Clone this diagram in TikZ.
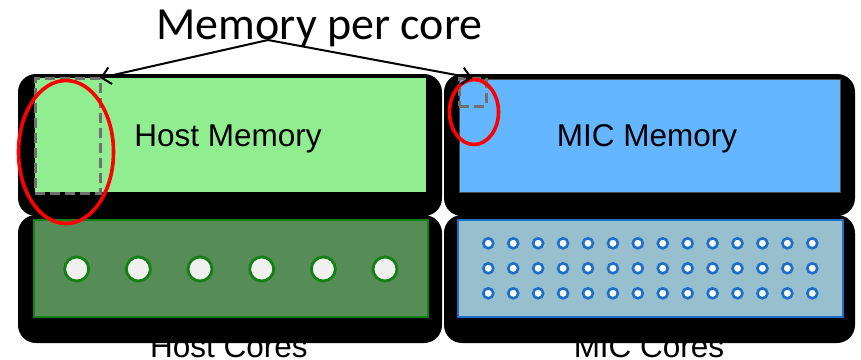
\documentclass[tikz,border=0pt]{standalone}
\usepackage{fontspec}
\setmainfont{Liberation Sans}
\newfontfamily\calib{Carlito}
\usetikzlibrary{arrows.meta,shapes.geometric}

\definecolor{hostmem}{RGB}{144,238,144}
\definecolor{micmem}{RGB}{99,182,255}
\definecolor{hostcore}{RGB}{86,140,86}
\definecolor{hostedge}{RGB}{20,128,20}
\definecolor{miccore}{RGB}{152,191,206}
\definecolor{micedge}{RGB}{30,110,200}
\definecolor{coregray}{RGB}{240,240,240}
\definecolor{dashgray}{RGB}{112,112,112}

\begin{document}
\begin{tikzpicture}[x=1pt,y=-1pt,
  halo/.style={fill=black, rounded corners=18pt, inner sep=0pt, outer sep=0pt, anchor=north west},
  panel/.style={inner sep=0pt, outer sep=0pt, anchor=north west},
  share/.style={draw=dashgray, line width=3pt, dash pattern=on 10pt off 5pt, inner sep=0pt, outer sep=0pt, anchor=north west},
  ring/.style={draw=red, line width=3.6pt, ellipse, inner sep=0pt},
  bigcore/.style={circle, fill=coregray, draw=hostedge, line width=2.8pt, minimum size=24pt, inner sep=0pt},
  smallcore/.style={circle, fill=white, draw=micedge, line width=2.6pt, minimum size=10pt, inner sep=0pt},
  lbl/.style={anchor=base, inner sep=0pt, font=\fontsize{31.5}{36}\selectfont},
  pointer/.style={draw=black, line width=2pt, -{Straight Barb[length=9pt,width=17pt,line width=2pt]}}
]
\useasboundingbox (0,0) rectangle (861,359);

% black backing plates
\node[halo, minimum width=424pt, minimum height=142pt] (hmback) at (18,74) {};
\node[halo, minimum width=424pt, minimum height=128pt] (hcback) at (18,215) {};
\node[halo, minimum width=411pt, minimum height=142pt] (mmback) at (444,74) {};
\node[halo, minimum width=411pt, minimum height=128pt] (mcback) at (444,215) {};

% memory panels
\node[panel, fill=hostmem, minimum width=391pt, minimum height=114pt] (hostmem) at (35,78) {};
\node[panel, fill=micmem, draw=black!70, line width=0.8pt, minimum width=381pt, minimum height=113pt] (micmem) at (459,79) {};

% core panels
\node[panel, fill=hostcore, draw=hostedge, line width=2.8pt, minimum width=394pt, minimum height=97pt] (hostcores) at (34,220) {};
\node[panel, fill=miccore, draw=micedge, line width=2.8pt, minimum width=385pt, minimum height=97pt] (miccores) at (458,220) {};

% per-core memory shares
\node[share, minimum width=65pt, minimum height=115pt] (hshare) at (35,78) {};
\node[share, minimum width=27pt, minimum height=28pt] (mshare) at (459,78) {};

% labels
\node[lbl] (hmlbl) at (228,146) {Host Memory};
\node[lbl] (mmlbl) at (647,146) {MIC Memory};
\node[lbl] (hclbl) at (229,357) {Host Cores};
\node[lbl] (mclbl) at (649,357) {MIC Cores};
\node[anchor=base, inner sep=0pt, font=\calib\fontsize{46}{52}\selectfont] (title) at (319.5,39) {Memory per core};

% host cores
\foreach \i in {0,...,5}
  \node[bigcore] (hc\i) at ({76.7+61.66*\i},269) {};

% MIC cores
\foreach \j in {0,1,2}
  \foreach \i in {0,...,13}
    \node[smallcore] (mc\j-\i) at ({488.3+24.92*\i},{243.3+25*\j}) {};

% highlight rings
\node[ring, minimum width=95pt, minimum height=143pt] (hring) at (66,152) {};
\node[ring, minimum width=49pt, minimum height=65pt] (mring) at (474,112) {};

% pointers from the title
\coordinate (src) at (268,40);
\draw[pointer] (src) -- (hshare.north east);
\draw[pointer] (src) -- (mshare.north);
\end{tikzpicture}
\end{document}
